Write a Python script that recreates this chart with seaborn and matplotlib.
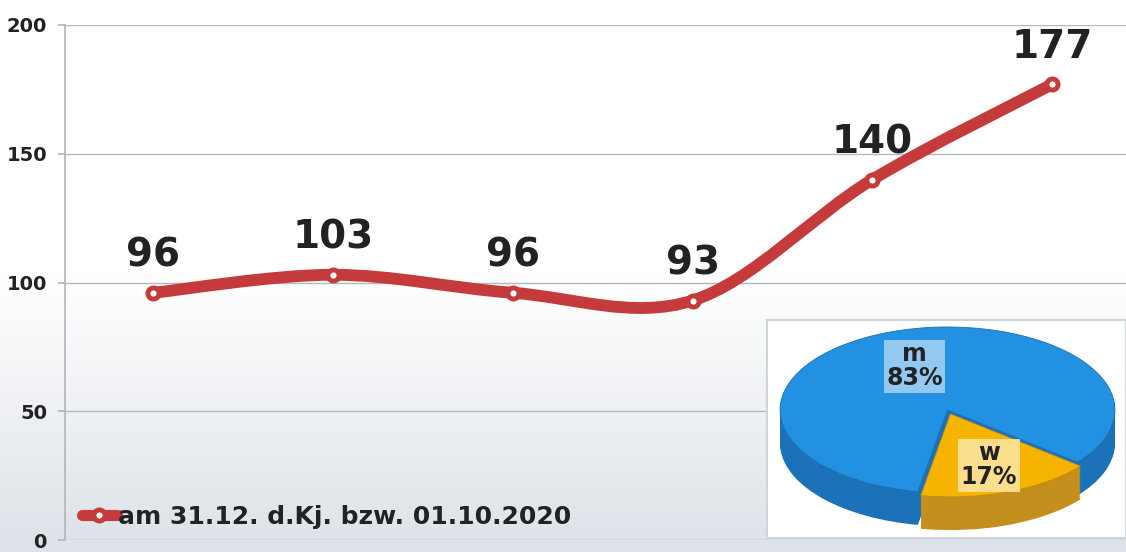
import numpy as np
import pandas as pd
import seaborn as sns
import matplotlib.pyplot as plt
from matplotlib.path import Path
from matplotlib.patches import PathPatch
from matplotlib.lines import Line2D
from matplotlib.colors import LinearSegmentedColormap

# data
years = ["1", "2", "3", "4", "5", "6"]
counts = [96, 103, 96, 93, 140, 177]
series_label = "am 31.12. d.Kj. bzw. 01.10.2020"
pie_labels = ["m", "w"]
pie_shares = [83, 17]

RED = "#c53a3a"
TXT = "#222222"

sns.set_theme(style="white")
plt.rcParams["font.family"] = ["DejaVu Sans"]

fig = plt.figure(figsize=(11.26, 5.52), dpi=100)

# background gradient over the whole figure
bg = fig.add_axes([0, 0, 1, 1], zorder=-10)
grad = np.linspace(0, 1, 256).reshape(-1, 1)
cmap = LinearSegmentedColormap.from_list("bg", ["#ffffff", "#ffffff", "#dde2e8"])
bg.imshow(grad, aspect="auto", cmap=cmap, extent=[0, 1, 0, 1], origin="upper")
bg.axis("off")

ax = fig.add_axes([65 / 1126, 12 / 552, 1 - 65 / 1126, 515 / 552])
ax.patch.set_alpha(0)

df = pd.DataFrame({"idx": np.arange(len(years)), "count": counts})

# smoothed line (Catmull-Rom -> cubic bezier in data coords)
pts = df[["idx", "count"]].to_numpy(dtype=float)
n = len(pts)
verts = [pts[0]]
codes = [Path.MOVETO]
for i in range(n - 1):
    p0 = pts[i - 1] if i > 0 else pts[i]
    p1 = pts[i]
    p2 = pts[i + 1]
    p3 = pts[i + 2] if i + 2 < n else pts[i + 1]
    verts += [p1 + (p2 - p0) / 6, p2 - (p3 - p1) / 6, p2]
    codes += [Path.CURVE4] * 3
ax.add_patch(PathPatch(Path(verts, codes), fill=False, lw=8.5, edgecolor=RED,
                       capstyle="round", joinstyle="round", zorder=3))

sns.scatterplot(data=df, x="idx", y="count", ax=ax, s=64, color="white",
                edgecolor=RED, linewidth=3.5, zorder=4, legend=False)

for x, y in zip(df["idx"], df["count"]):
    ax.annotate(str(y), (x, y), xytext=(0, 27), textcoords="offset points",
                ha="center", va="center", fontsize=28, fontweight="bold",
                color=TXT, zorder=5)

ax.set_xlim(-0.49, 5.41)
ax.set_ylim(0, 200)
ax.set_yticks([0, 50, 100, 150, 200])
ax.set_xticks([])
ax.set_xlabel("")
ax.set_ylabel("")
ax.grid(axis="y", color="#b4b8bc", lw=1)
ax.grid(axis="x", visible=False)
for s in ["top", "right", "bottom"]:
    ax.spines[s].set_visible(False)
ax.spines["left"].set_color("#b4b8bc")
ax.tick_params(axis="y", left=True, length=5, color="#b4b8bc", pad=8,
               labelsize=14, labelcolor=TXT)
for lab in ax.get_yticklabels():
    lab.set_fontweight("bold")

handle = Line2D([], [], color=RED, lw=8, marker="o", markersize=8,
                markerfacecolor="white", markeredgecolor=RED, markeredgewidth=3.5)
leg = ax.legend([handle], [series_label], loc="lower left", frameon=False,
                bbox_to_anchor=(0.005, 0.0), borderaxespad=0.3, borderpad=0.15,
                handlelength=1.4, handletextpad=0.05,
                prop={"size": 18, "weight": "bold"})
for t in leg.get_texts():
    t.set_color(TXT)

# pie inset (pseudo 3D)
pax = fig.add_axes([767 / 1126, 14 / 552, 359 / 1126, 218 / 552], zorder=6)

top_cols = ["#2391e2", "#f6b400"]
side_cols = ["#1c72b8", "#c48f1c"]
explode = [0, 0.05]
depth = 0.40
for d in np.linspace(depth, 0.01, 30):
    pax.pie(pie_shares, colors=side_cols, startangle=-39, explode=explode,
            center=(0, -d), radius=1, wedgeprops={"linewidth": 0})
wedges, _ = pax.pie(pie_shares, colors=top_cols, startangle=-39, explode=explode,
                    center=(0, 0), radius=1,
                    wedgeprops={"linewidth": 0.6, "edgecolor": "#1f6fae"})
wedges[1].set_edgecolor("#c08a12")
pax.set_frame_on(True)
pax.set_facecolor("white")
for s in pax.spines.values():
    s.set_visible(True)
    s.set_color("#d0d4d8")
    s.set_linewidth(1.5)
pax.set_xticks([])
pax.set_yticks([])
pax.set_aspect("auto")
pax.set_xlim(-1.078, 1.066)
pax.set_ylim(-1.542, 1.084)

box_cols = ["#a8d3f4", "#fde7a6"]
label_r = [0.56, 0.66]
for w, lab, share, bc, r in zip(wedges, pie_labels, pie_shares, box_cols, label_r):
    mid = np.deg2rad((w.theta1 + w.theta2) / 2)
    cx, cy = w.center
    pax.text(cx + r * np.cos(mid), cy + r * np.sin(mid), f"{lab}\n{share}%",
             ha="center", va="center", fontsize=17, fontweight="bold",
             color=TXT, linespacing=1.0,
             bbox=dict(boxstyle="square,pad=0.1", fc=bc, ec="none", alpha=0.85))

fig.savefig("out.png", dpi=100)
